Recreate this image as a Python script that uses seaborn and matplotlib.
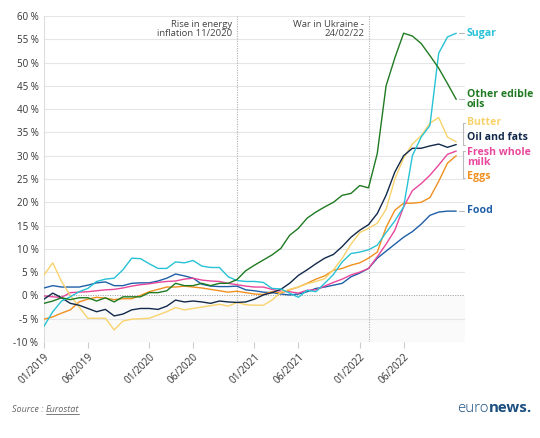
import numpy as np
import pandas as pd
import matplotlib
matplotlib.use("Agg")
import matplotlib.pyplot as plt
import seaborn as sns
from matplotlib.lines import Line2D

sns.set_theme(style="white")
plt.rcParams['font.family'] = ['Open Sans', 'DejaVu Sans']

months = list(range(48))  # 01/2019 .. 12/2022
tick_pos = [0, 5, 12, 17, 24, 29, 36, 41]
tick_labels = ["01/2019", "06/2019", "01/2020", "06/2020", "01/2021", "06/2021", "01/2022", "06/2022"]
y_ticks = list(range(-10, 61, 5))

sugar = [-6.6, -3.5, -1.2, -0.3, 0.8, 1.5, 3.0, 3.5, 3.7, 5.5, 8.0, 7.9, 6.8, 5.8, 5.8, 7.2,
         7.0, 7.5, 6.3, 6.0, 6.0, 4.0, 3.2, 3.0, 3.0, 2.8, 1.5, 1.4, 0.5, -0.4, 1.1, 0.8,
         2.6, 4.5, 7.2, 9.0, 9.3, 9.8, 10.8, 13.5, 16.0, 19.0, 30.0, 34.0, 36.5, 52.0, 55.5, 56.3]
oils = [-1.7, -1.2, -0.5, -0.9, -0.5, -0.5, -1.2, -0.5, -1.4, -0.3, -0.3, -0.3, 0.6, 0.6, 1.0, 2.6,
        2.1, 2.1, 2.6, 2.1, 2.6, 2.6, 3.4, 5.3, 6.5, 7.6, 8.7, 10.1, 12.9, 14.4, 16.6, 17.9,
        19.0, 20.0, 21.5, 21.9, 23.6, 23.1, 30.5, 45.0, 51.0, 56.3, 55.7, 54.1, 51.5, 48.8, 45.5, 42.1]
butter = [4.4, 7.0, 3.0, 0.0, -2.5, -4.9, -4.9, -4.9, -7.4, -5.5, -5.1, -5.0, -4.9, -4.2, -3.5, -2.6,
          -3.1, -2.8, -2.5, -2.2, -1.9, -2.3, -1.5, -2.0, -2.1, -2.1, -1.0, 0.7, 1.3, 1.8, 2.5, 3.0,
          3.6, 5.5, 8.0, 11.0, 13.5, 14.4, 15.5, 18.5, 25.0, 29.5, 32.5, 34.3, 37.0, 38.2, 34.0, 33.0]
oil_fats = [-0.8, 0.5, -0.5, -1.7, -2.1, -2.8, -3.5, -3.0, -4.4, -4.0, -3.1, -2.8, -2.8, -3.0, -2.3, -1.0,
            -1.4, -1.2, -1.4, -1.7, -1.2, -1.4, -1.5, -1.4, -0.8, 0.1, 0.6, 1.3, 2.6, 4.3, 5.5, 6.8,
            8.0, 8.8, 10.5, 12.5, 14.0, 15.2, 17.6, 21.5, 26.5, 30.0, 31.6, 31.6, 32.1, 32.5, 31.8, 32.4]
milk = [-0.1, -0.3, -0.4, 0.6, 0.7, 0.8, 1.0, 1.2, 1.3, 1.6, 2.0, 2.3, 2.5, 2.8, 3.0, 3.1,
        3.5, 3.7, 3.3, 3.1, 3.0, 2.6, 2.3, 2.0, 1.8, 1.8, 1.3, 0.9, 0.8, 0.5, 1.1, 1.2,
        2.0, 2.8, 3.5, 4.4, 5.0, 5.8, 8.3, 11.0, 14.0, 19.0, 22.5, 24.0, 25.8, 28.0, 30.3, 31.0]
eggs = [-5.1, -4.6, -3.8, -3.1, -1.4, -0.8, -0.4, -0.6, -0.9, -0.7, -0.7, 0.0, 0.8, 1.3, 1.8, 1.8,
        2.0, 1.8, 1.6, 1.3, 1.0, 0.7, 0.9, 0.6, 0.3, 0.2, 0.8, 0.5, 1.2, 1.8, 2.6, 3.5,
        4.2, 5.4, 5.8, 6.5, 7.0, 8.0, 9.3, 14.6, 18.3, 19.8, 19.8, 20.0, 21.0, 24.5, 28.4, 30.0]
food = [1.6, 2.1, 1.8, 1.8, 1.8, 2.2, 2.7, 2.9, 2.1, 2.1, 2.6, 2.7, 2.7, 3.1, 3.7, 4.6,
        4.2, 3.7, 2.4, 2.0, 1.9, 1.9, 2.0, 1.2, 1.0, 0.7, 0.6, 0.3, 0.1, 0.3, 0.8, 1.5,
        1.8, 2.2, 2.6, 4.0, 4.8, 5.8, 8.0, 9.5, 11.0, 12.5, 13.7, 15.3, 17.2, 17.9, 18.1, 18.1]

series_names = ["Food", "Eggs", "Fresh whole milk", "Butter", "Oil and fats", "Sugar", "Other edible oils"]
series_vals = [food, eggs, milk, butter, oil_fats, sugar, oils]
colors = {"Sugar": "#27c2d6", "Other edible oils": "#1f7a22", "Butter": "#f8d36c",
          "Oil and fats": "#12294a", "Fresh whole milk": "#e8479b", "Eggs": "#f0901f",
          "Food": "#1e5fa8"}

df = pd.concat([pd.DataFrame({"month": months, "value": v, "series": n})
                for n, v in zip(series_names, series_vals)], ignore_index=True)

fig = plt.figure(figsize=(5.4, 4.38), dpi=100)
ax = fig.add_axes([44/540, 1-342/438, (465-44)/540, (342-16)/438])

ax.axhspan(-10, 0, color="#fafafa", zorder=0, lw=0)
for y in y_ticks:
    if y != 0:
        ax.axhline(y, color="#e6e6e6", lw=0.8, zorder=1)
ax.axhline(0, color="#9a9a9a", lw=0.7, ls=(0, (1, 1.5)), zorder=1)

for xv in [22, 37]:
    ax.axvline(xv, color="#b0b0b0", lw=0.8, ls=(0, (1, 1.2)), zorder=1)

sns.lineplot(data=df, x="month", y="value", hue="series", palette=colors,
             hue_order=series_names, ax=ax, legend=False, linewidth=1.0, zorder=3)

ax.set_xlim(0, 48)
ax.set_ylim(-10, 60)
ax.set_yticks(y_ticks)
ax.set_yticklabels([f"{y} %" for y in y_ticks], fontsize=7, color="#333333")
ax.set_xticks(tick_pos)
ax.set_xticklabels(tick_labels, rotation=45, ha="right", rotation_mode="anchor",
                   fontsize=7.2, color="#333333")
ax.tick_params(axis="x", length=4, color="#cccccc", width=0.8, pad=3, bottom=True)
ax.tick_params(axis="y", length=0, pad=4)
ax.set_xlabel("")
ax.set_ylabel("")
for s in ["top", "right", "bottom"]:
    ax.spines[s].set_visible(False)
ax.spines["left"].set_color("#dddddd")
ax.spines["left"].set_linewidth(0.8)

# event annotations
ax.text(21.5, 59.2, "Rise in energy\ninflation 11/2020", ha="right", va="top",
        fontsize=6.8, color="#444444", linespacing=1.1)
ax.text(36.5, 59.2, "War in Ukraine -\n24/02/22", ha="right", va="top",
        fontsize=6.8, color="#444444", linespacing=1.1)

# end labels
lab_x = 48.2
labels = [("Sugar", 56.3, colors["Sugar"]),
          ("Other edible\noils", 42.0, colors["Other edible oils"]),
          ("Butter", 37.2, colors["Butter"]),
          ("Oil and fats", 34.0, colors["Oil and fats"]),
          ("Fresh whole\nmilk", 29.7, colors["Fresh whole milk"]),
          ("Eggs", 25.6, colors["Eggs"]),
          ("Food", 18.2, colors["Food"])]
for t, y, c in labels:
    ax.text(lab_x, y, t, ha="left", va="center", fontsize=7.6, fontweight="bold",
            color=c, linespacing=0.85, clip_on=False)

gray = "#bbbbbb"
for y in [56.3, 42.1, 18.1]:
    ax.add_line(Line2D([47.3, 47.9], [y, y], color=gray, lw=0.8, clip_on=False))
for (y0, y1) in [(37.0, 32.4), (31.0, 25.2)]:
    ax.add_line(Line2D([47.75, 47.75], [y0, y1], color=gray, lw=0.8, clip_on=False))
    ax.add_line(Line2D([47.75, 47.95], [y0, y0], color=gray, lw=0.8, clip_on=False))
    ax.add_line(Line2D([47.75, 47.95], [y1, y1], color=gray, lw=0.8, clip_on=False))

# source
renderer = fig.canvas.get_renderer()
t1 = fig.text(12/540, 1-410/438, "Source : ", fontsize=6.5, style="italic",
              color="#666666", va="center", ha="left")
bb = t1.get_window_extent(renderer)
t2 = fig.text(bb.x1/540, 1-410/438, "Eurostat", fontsize=6.5, style="italic",
              color="#666666", va="center", ha="left")
bb2 = t2.get_window_extent(renderer)
fig.add_artist(Line2D([bb2.x0/540, bb2.x1/540], [(bb2.y0+0.5)/438]*2,
                      color="#666666", lw=0.6))

# logo
l1 = fig.text(457/540, 1-408/438, "euro", fontsize=10.8, color="#1b4f80",
              va="center", ha="left", fontweight="light")
lb = l1.get_window_extent(renderer)
fig.text(lb.x1/540, 1-408/438, "news.", fontsize=10.8, color="#1b4f80",
         va="center", ha="left", fontweight="bold")

fig.savefig("out.png", dpi=100)
